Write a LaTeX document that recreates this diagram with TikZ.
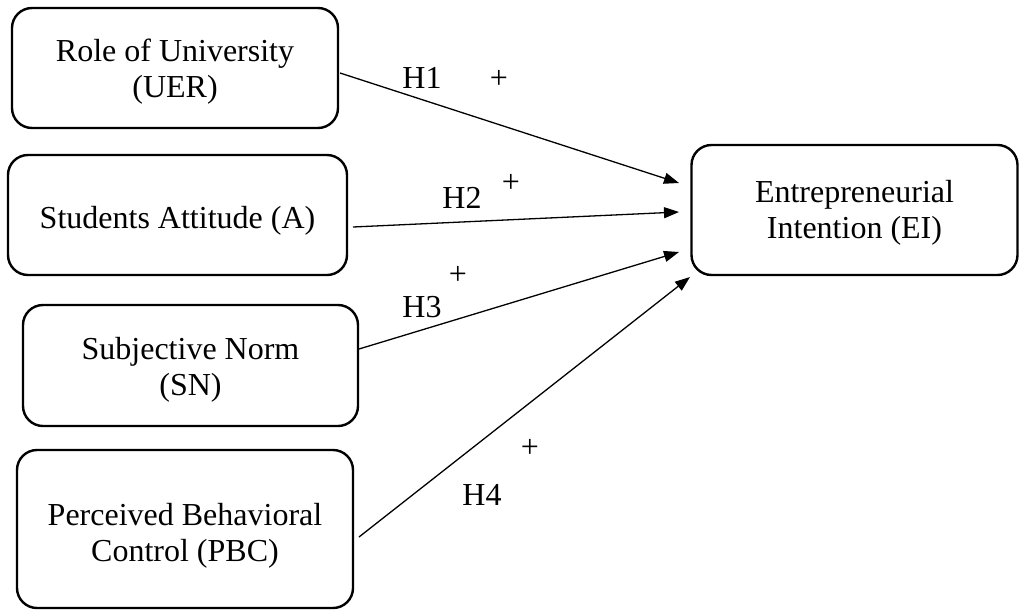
\documentclass[tikz,border=0pt]{standalone}
\usepackage{fontspec}
\setmainfont{Liberation Serif}
\usetikzlibrary{arrows.meta}
\begin{document}
\begin{tikzpicture}[x=1pt,y=-1pt,
  box/.style={draw,line width=2.4pt,rounded corners=20pt,inner sep=0pt},
  txt/.style={align=center,inner sep=0pt,font=\fontsize{32}{36}\selectfont},
  link/.style={line width=1.3pt,-{Triangle[length=15pt,width=11pt]}},
  lab/.style={font=\fontsize{32}{36}\selectfont,inner sep=0pt}]
\useasboundingbox (0,0) rectangle (1019,611);
\node[box,minimum width=326pt,minimum height=120pt] (b1) at (175,68) {};
\node[box,minimum width=339pt,minimum height=120pt] (b2) at (177.5,215) {};
\node[box,minimum width=335pt,minimum height=121pt] (b3) at (190.5,365.5) {};
\node[box,minimum width=336pt,minimum height=158pt] (b4) at (185,529) {};
\node[box,minimum width=326pt,minimum height=130pt] (ei) at (854.5,210) {};
\node[txt] (b1t) at ([yshift=-4pt]b1.center) {Role of University\\(UER)};
\node[txt] (b2t) at ([yshift=-6pt]b2.center) {Students Attitude (A)};
\node[txt] (b3t) at ([yshift=-4pt]b3.center) {Subjective Norm\\(SN)};
\node[txt] (b4t) at ([yshift=-7pt]b4.center) {Perceived Behavioral\\Control (PBC)};
\node[txt] (eit) at ([yshift=-3pt]ei.center) {Entrepreneurial\\Intention (EI)};
\coordinate (s1) at (340,73);
\coordinate (s2) at (353,227);
\coordinate (s3) at (359,349);
\coordinate (s4) at (359,537);
\coordinate (t1) at (679,183);
\coordinate (t2) at (679,212);
\coordinate (t3) at (679,252);
\coordinate (t4) at (690,277);
\draw[link] (s1) -- (t1);
\draw[link] (s2) -- (t2);
\draw[link] (s3) -- (t3);
\draw[link] (s4) -- (t4);
\node[lab] (h1) at (422,78) {H1};
\node[lab] (p1) at (499,79) {+};
\node[lab] (h2) at (462,198) {H2};
\node[lab] (p2) at (511,183) {+};
\node[lab] (p3) at (458,275) {+};
\node[lab] (h3) at (422,307) {H3};
\node[lab] (p4) at (530,448) {+};
\node[lab] (h4) at (482,495) {H4};
\end{tikzpicture}
\end{document}
